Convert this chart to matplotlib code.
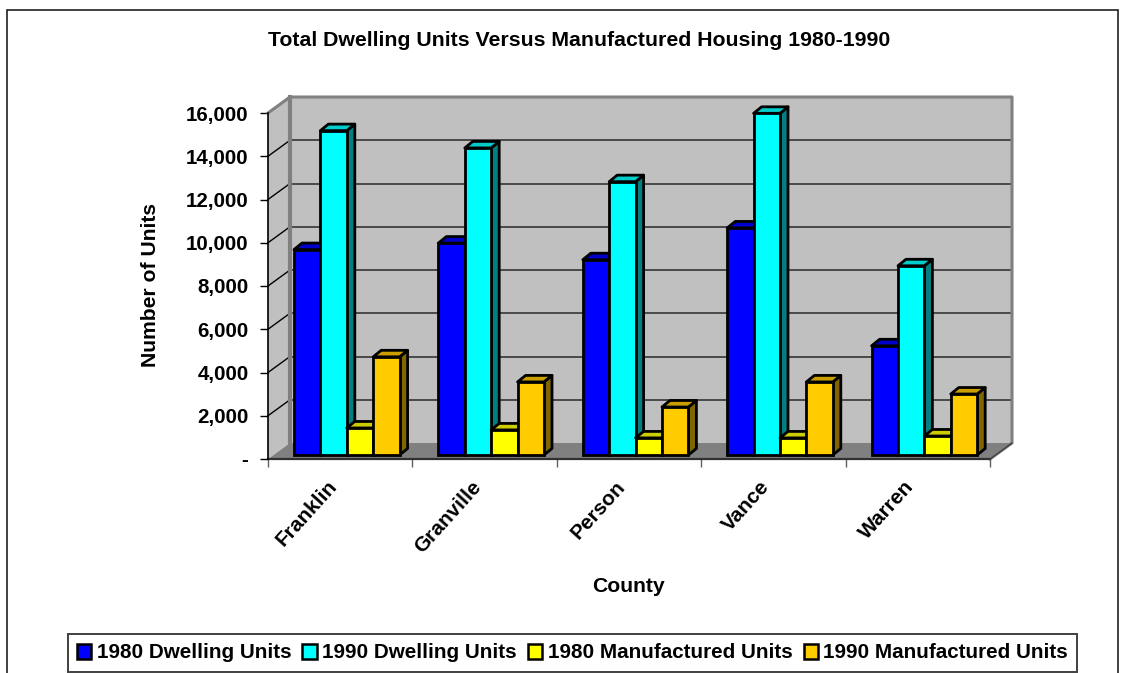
import matplotlib
matplotlib.use('Agg')
import matplotlib.pyplot as plt
from matplotlib.patches import Rectangle

plt.rcParams['font.family'] = ['Liberation Sans', 'DejaVu Sans']
plt.rcParams['font.weight'] = 'bold'

counties = ['Franklin', 'Granville', 'Person', 'Vance', 'Warren']
dwelling_1980 = [9500, 9800, 9030, 10500, 5050]
dwelling_1990 = [15000, 14200, 12640, 15800, 8750]
manuf_1980 = [1250, 1160, 790, 790, 880]
manuf_1990 = [4540, 3380, 2220, 3380, 2820]
series_names = ['1980 Dwelling Units', '1990 Dwelling Units',
                '1980 Manufactured Units', '1990 Manufactured Units']
face_colors = ['#0000ff', '#00ffff', '#ffff00', '#ffcc00']
top_colors = ['#0000cc', '#00cccc', '#cccc00', '#cc9f00']
side_colors = ['#000080', '#008080', '#808000', '#806600']
y_ticks = [0, 2000, 4000, 6000, 8000, 10000, 12000, 14000, 16000]
y_labels = ['-', '2,000', '4,000', '6,000', '8,000', '10,000', '12,000', '14,000', '16,000']

W, H = 1127, 673
fig = plt.figure(figsize=(W / 100, H / 100), dpi=100)

# outer chart frame
fig.add_artist(Rectangle((7 / W, -0.02), (1111 / W), 1 - 9.5 / H + 0.02, transform=fig.transFigure,
                         fill=False, ec='#202020', lw=1.2))

# axes = front plane of the 3d box
x0, x1, y_top, y_bot = 268, 990, 113, 459
ax = fig.add_axes([x0 / W, 1 - y_bot / H, (x1 - x0) / W, (y_bot - y_top) / H])
ax.set_xlim(0, 5)
ax.set_ylim(0, 16000)
ax.patch.set_alpha(0)
for s in ax.spines.values():
    s.set_visible(False)

# conversion of pixel offsets used for the fake depth
px_x = 5 / (x1 - x0)
px_y = 16000 / (y_bot - y_top)
dx, dy = 22 * px_x, 16 * px_y

# back wall, side wall, floor
ax.fill([dx, 5 + dx, 5 + dx, dx], [dy, dy, 16000 + dy, 16000 + dy], fc='#c0c0c0', ec='none', zorder=1, clip_on=False)
ax.fill([0, dx, dx, 0], [0, dy, 16000 + dy, 16000], fc='#c0c0c0', ec='none', zorder=1, clip_on=False)
ax.fill([0, dx, 5 + dx, 5], [0, dy, dy, 0], fc='#808080', ec='none', zorder=1, clip_on=False)
for v in y_ticks[1:]:
    ax.plot([dx, 5 + dx], [v + dy, v + dy], color='#404040', lw=1.3, zorder=2, clip_on=False)
    ax.plot([0, dx], [v, v + dy], color='black', lw=1, zorder=2, clip_on=False)
ax.plot([0, dx, 5 + dx, 5 + dx, 5], [16000, 16000 + dy, 16000 + dy, dy, 0], color='#808080', lw=2.2, zorder=2, clip_on=False)
ax.plot([dx, dx], [16000 + dy, dy], color='#808080', lw=3, zorder=2, clip_on=False)

# bars
bar_w = 26.4 * px_x
bar_dx, bar_dy = 8 * px_x, 6.5 * px_y
base = 4 * px_y
series = [dwelling_1980, dwelling_1990, manuf_1980, manuf_1990]
for j, vals in enumerate(series):
    for i, v in enumerate(vals):
        left = i + 26 * px_x + j * bar_w
        top = v + base
        z = 3 + i * 4 + j * 0.1
        ax.fill([left + bar_w, left + bar_w + bar_dx, left + bar_w + bar_dx, left + bar_w],
                [base, base + bar_dy, top + bar_dy, top], fc=side_colors[j], ec='black', lw=2,
                joinstyle='round', zorder=z, clip_on=False)
        ax.fill([left, left + bar_dx, left + bar_w + bar_dx, left + bar_w],
                [top, top + bar_dy, top + bar_dy, top], fc=top_colors[j], ec='black', lw=2,
                joinstyle='round', zorder=z, clip_on=False)
        ax.bar(left, v, bar_w, bottom=base, align='edge', color=face_colors[j], ec='black', lw=2,
               zorder=z + 0.05, clip_on=False)

# axes lines and ticks
ax.plot([0, 0], [0, 16000], color='black', lw=1.2, zorder=30, clip_on=False)
ax.plot([0, 5], [0, 0], color='#303030', lw=1.6, zorder=2.5, clip_on=False)
ax.plot([5, 5 + dx], [0, dy], color='#404040', lw=1, zorder=2.5, clip_on=False)
ax.set_yticks(y_ticks)
ax.set_yticklabels(y_labels, fontsize=14.8, fontweight='bold')
ax.tick_params(axis='y', length=5.5, width=1, pad=8.5)
ax.set_xticks(range(6))
ax.set_xticklabels([])
ax.tick_params(axis='x', length=5.5, width=1, color='#606060')

for i, name in enumerate(counties):
    ax.annotate(name, (i + 0.5, 0), xytext=(-10, -13), textcoords='offset points',
                rotation=48, ha='right', va='top', rotation_mode='anchor',
                fontsize=15, fontweight='bold')

fig.text(579 / W, 1 - 40 / H, 'Total Dwelling Units Versus Manufactured Housing 1980-1990',
         ha='center', va='center', fontsize=15.3, fontweight='bold')
fig.text(151 / W, 1 - 285 / H, 'Number of Units', rotation=90, ha='center', va='center',
         fontsize=15.2, fontweight='bold')
fig.text(628 / W, 1 - 587 / H, 'County', ha='center', va='center', fontsize=15.2, fontweight='bold')

# legend
handles = [Rectangle((0, 0), 1, 1, fc=c, ec='black', lw=1.8) for c in face_colors]
leg = fig.legend(handles, series_names, loc='center', bbox_to_anchor=(572.5 / W, 1 - 653 / H),
                 ncol=4, fontsize=14.85, frameon=True, fancybox=False, edgecolor='#404040',
                 framealpha=1, handlelength=0.7, handleheight=0.7, handletextpad=0.25,
                 columnspacing=0.55, borderpad=0.45, borderaxespad=0)
leg.get_frame().set_linewidth(1.4)

fig.savefig('out.png', dpi=100)
